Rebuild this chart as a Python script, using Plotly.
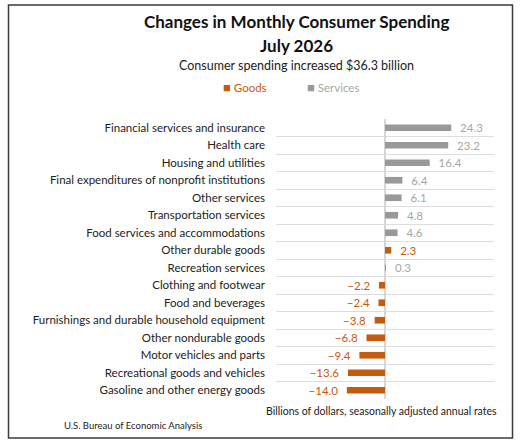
import plotly.graph_objects as go

# Categories, top to bottom as shown
categories = [
    "Financial services and insurance",
    "Health care",
    "Housing and utilities",
    "Final expenditures of nonprofit institutions",
    "Other services",
    "Transportation services",
    "Food services and accommodations",
    "Other durable goods",
    "Recreation services",
    "Clothing and footwear",
    "Food and beverages",
    "Furnishings and durable household equipment",
    "Other nondurable goods",
    "Motor vehicles and parts",
    "Recreational goods and vehicles",
    "Gasoline and other energy goods",
]
# Change in billions of dollars (SAAR)
values = [24.3, 23.2, 16.4, 6.4, 6.1, 4.8, 4.6, 2.3, 0.3,
          -2.2, -2.4, -3.8, -6.8, -9.4, -13.6, -14.0]
kind = ["S", "S", "S", "S", "S", "S", "S", "G", "S",
        "G", "G", "G", "G", "G", "G", "G"]

GOODS = "#C55A11"
SERVICES = "#999999"
SERV_TXT = "#A6A6A6"
FONT = "Lato"

W, H = 523, 446
ML, MR, MT, MB = 276, 29, 119, 47


def px_x(p):
    return (p - ML) / (W - ML - MR)


def px_y(p):
    return (H - MB - p) / (H - MT - MB)


def label(v):
    s = f"{abs(v):.1f}"
    if v < 0:
        return "\u2212" + s + "\u00a0\u00a0"
    return "\u00a0\u00a0" + s


fig = go.Figure()

for code, name, col, tcol in [("G", "Goods", GOODS, GOODS),
                              ("S", "Services", SERVICES, SERV_TXT)]:
    ys = [c for c, k in zip(categories, kind) if k == code]
    xs = [v for v, k in zip(values, kind) if k == code]
    fig.add_trace(go.Bar(
        x=xs, y=ys, orientation="h", name=name,
        marker=dict(color=col, line=dict(width=0)),
        width=0.38,
        text=[label(v) for v in xs],
        textposition="outside",
        constraintext="none",
        textfont=dict(color=tcol, size=11.5, family=FONT),
        cliponaxis=False,
        hoverinfo="skip",
        showlegend=False,
    ))
    # legend-style key drawn as text
    fig.add_annotation(
        text=f"<span style='color:{col};font-size:13px'>\u25a0</span>"
             f"<span style='color:{tcol}'> {name}</span>",
        xref="paper", yref="paper",
        x=px_x(221 if code == "G" else 305), y=px_y(87),
        xanchor="left", yanchor="middle", showarrow=False,
        font=dict(size=11.5, family=FONT))

fig.update_layout(
    width=W, height=H,
    margin=dict(l=ML, r=MR, t=MT, b=MB, autoexpand=False),
    paper_bgcolor="white", plot_bgcolor="white",
    font=dict(family=FONT, size=11, color="#222222"),
    barmode="overlay",
)

fig.update_xaxes(range=[-40, 40], showticklabels=False, showgrid=False,
                 zeroline=True, zerolinecolor="#D6D6D6", zerolinewidth=1.5,
                 fixedrange=True)
fig.update_yaxes(type="category", categoryorder="array", categoryarray=categories,
                 autorange="reversed", tickson="boundaries", ticks="",
                 showgrid=True, gridcolor="#DDDDDD", gridwidth=1,
                 ticklabelstandoff=10, tickfont=dict(size=11.5, color="#222222"),
                 fixedrange=True)

fig.add_annotation(text="<b>Changes in Monthly Consumer Spending</b>",
                   xref="paper", yref="paper", x=px_x(296), y=px_y(22),
                   xanchor="center", yanchor="middle", showarrow=False,
                   font=dict(size=17, color="#111111"))
fig.add_annotation(text="<b>July 2026</b>",
                   xref="paper", yref="paper", x=px_x(296), y=px_y(45),
                   xanchor="center", yanchor="middle", showarrow=False,
                   font=dict(size=17, color="#111111"))
fig.add_annotation(text="Consumer spending increased $36.3 billion",
                   xref="paper", yref="paper", x=px_x(296), y=px_y(65),
                   xanchor="center", yanchor="middle", showarrow=False,
                   font=dict(size=12.5, color="#222222"))
fig.add_annotation(text="Billions of dollars, seasonally adjusted annual rates",
                   xref="paper", yref="paper", x=px_x(381), y=px_y(411),
                   xanchor="center", yanchor="middle", showarrow=False,
                   font=dict(size=10.5, color="#222222"))
fig.add_annotation(text="U.S. Bureau of Economic Analysis",
                   xref="paper", yref="paper", x=px_x(62), y=px_y(425),
                   xanchor="left", yanchor="middle", showarrow=False,
                   font=dict(size=9.5, color="#222222"))

# outer frame
fig.add_shape(type="rect", xref="paper", yref="paper",
              x0=px_x(8.5), x1=px_x(512.5), y0=px_y(438), y1=px_y(5),
              line=dict(color="#3A3A3A", width=1.5), layer="below")

fig.write_html("out.html", config={"displayModeBar": False},
               post_script="document.body.style.margin='0';")
